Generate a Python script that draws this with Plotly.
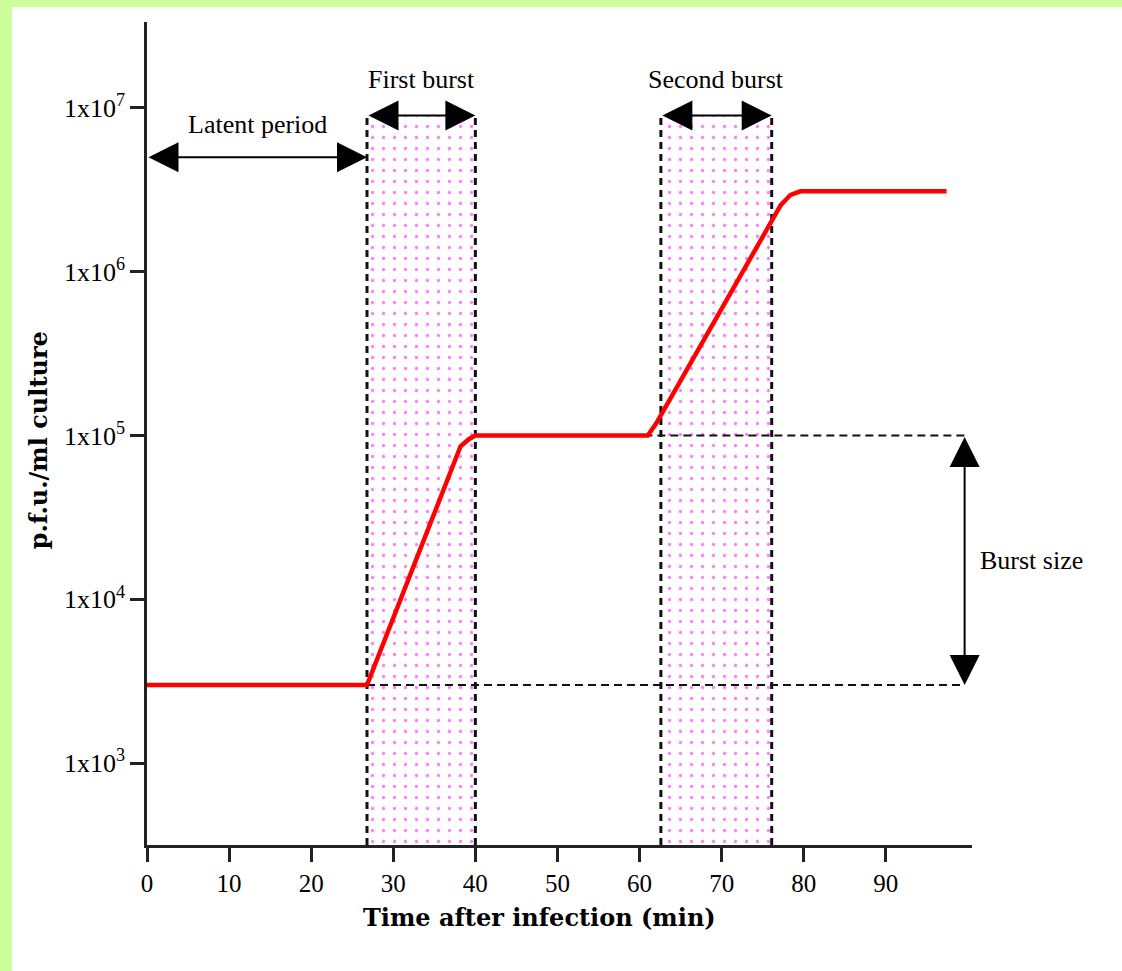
import numpy as np
import plotly.graph_objects as go

# ---- data ----
time_min = [0.0, 26.8, 38.2, 39.2, 40.0, 61.0, 62.0, 75.9, 77.2, 78.4, 79.6, 97.4]
pfu_ml = [3.0e3, 3.0e3, 8.6e4, 9.5e4, 1.0e5, 1.0e5, 1.18e5, 2.0e6, 2.55e6, 2.95e6, 3.1e6, 3.1e6]

burst_start = [26.8, 62.6]
burst_end = [40.0, 76.1]
burst_labels = ["First burst", "Second burst"]
latent_end = 26.8
initial_titer = 3.0e3
first_plateau = 1.0e5
burst_size_time = 99.6
window_top = 9.0e6
latent_arrow_level = 5.0e6

xtick_vals = [0, 10, 20, 30, 40, 50, 60, 70, 80, 90]
ytick_vals = [1e3, 1e4, 1e5, 1e6, 1e7]
ytick_text = ["1x10<sup>3</sup>", "1x10<sup>4</sup>", "1x10<sup>5</sup>",
              "1x10<sup>6</sup>", "1x10<sup>7</sup>"]

FONT = "Liberation Serif"
TITLE_FONT = "DejaVu Serif"
y_bottom = 10 ** 2.5

fig = go.Figure()

# dotted pink burst windows
for s, e in zip(burst_start, burst_end):
    fig.add_trace(go.Scatter(
        x=[s, s, e, e, s], y=[y_bottom, window_top, window_top, y_bottom, y_bottom],
        mode="lines", fill="toself", fillcolor="white",
        fillpattern=dict(shape=".", fgcolor="#ff00ff", bgcolor="white", size=11, solidity=0.07),
        line=dict(width=0), hoverinfo="skip", showlegend=False))

# dashed vertical borders
vx, vy = [], []
for s, e in zip(burst_start, burst_end):
    for xv in (s, e):
        vx += [xv, xv, None]
        vy += [y_bottom, window_top, None]
fig.add_trace(go.Scatter(x=vx, y=vy, mode="lines",
                         line=dict(color="#111111", width=3, dash="7px,5px"),
                         hoverinfo="skip", showlegend=False))

# dashed horizontal guide lines
fig.add_trace(go.Scatter(
    x=[burst_end[0], burst_size_time, None, latent_end, burst_size_time],
    y=[first_plateau, first_plateau, None, initial_titer, initial_titer],
    mode="lines", line=dict(color="#111111", width=2, dash="8px,5px"),
    hoverinfo="skip", showlegend=False))

# growth curve
fig.add_trace(go.Scatter(x=time_min, y=pfu_ml, mode="lines",
                         line=dict(color="#ff0000", width=4.5),
                         showlegend=False))

annotations = []


def double_arrow(x0, y0, x1, y1):
    annotations.append(dict(
        x=x1, y=np.log10(y1), ax=x0, ay=np.log10(y0), xref="x", yref="y",
        axref="x", ayref="y", text="", showarrow=True, arrowside="end+start",
        arrowhead=2, startarrowhead=2, arrowsize=3, startarrowsize=3,
        arrowwidth=2, arrowcolor="black", standoff=0, startstandoff=0))


double_arrow(0, latent_arrow_level, latent_end, latent_arrow_level)
for s, e in zip(burst_start, burst_end):
    double_arrow(s, window_top, e, window_top)
double_arrow(burst_size_time, first_plateau, burst_size_time, initial_titer)

txt_font = dict(family=FONT, size=26, color="black")
annotations.append(dict(x=latent_end / 2, y=6.90, xref="x", yref="y", text="Latent period",
                        showarrow=False, font=txt_font))
for s, e, lab in zip(burst_start, burst_end, burst_labels):
    annotations.append(dict(x=(s + e) / 2, y=7.175, xref="x", yref="y", text=lab,
                            showarrow=False, font=txt_font))
annotations.append(dict(x=1.007, y=np.log10(np.sqrt(first_plateau * initial_titer)),
                        xref="paper", yref="y", text="Burst size", showarrow=False,
                        xanchor="left", yanchor="middle", font=txt_font))

# axis titles
annotations.append(dict(x=-0.132, y=0.492, xref="paper", yref="paper",
                        text="<b>p.f.u./ml culture</b>", textangle=-90, showarrow=False,
                        xanchor="center", yanchor="middle",
                        font=dict(family=TITLE_FONT, size=24, color="black")))
annotations.append(dict(x=0.476, y=-0.0875, xref="paper", yref="paper",
                        text="<b>Time after infection (min)</b>", showarrow=False,
                        xanchor="center", yanchor="middle",
                        font=dict(family=TITLE_FONT, size=24, color="black")))

shapes = [
    dict(type="rect", xref="paper", yref="paper", x0=-0.2, x1=1.2, y0=1.0182, y1=1.05,
         fillcolor="#ccff99", line=dict(width=0), layer="below"),
    dict(type="rect", xref="paper", yref="paper", x0=-0.2, x1=-0.1636, y0=-0.2, y1=1.05,
         fillcolor="#ccff99", line=dict(width=0), layer="below"),
]

fig.update_layout(
    width=1122, height=971,
    margin=dict(l=147, r=150, t=22, b=126),
    paper_bgcolor="white", plot_bgcolor="white",
    showlegend=False,
    annotations=annotations, shapes=shapes,
    font=dict(family=FONT, size=26, color="black"),
    xaxis=dict(range=[0, 100.5], tickvals=xtick_vals, showgrid=False, zeroline=False,
               showline=True, linecolor="#222222", linewidth=2.5,
               ticks="outside", ticklen=14, tickwidth=2.5, tickcolor="#222222",
               tickfont=dict(family=FONT, size=25, color="black")),
    yaxis=dict(type="log", range=[2.5, 7.525], tickvals=ytick_vals, ticktext=ytick_text,
               showgrid=False, zeroline=False,
               showline=True, linecolor="#222222", linewidth=2.5,
               ticks="outside", ticklen=14, tickwidth=2.5, tickcolor="#222222",
               tickfont=dict(family=FONT, size=26, color="black")),
)

fig.write_html("out.html", config={"displayModeBar": False},
               post_script="document.body.style.margin='0px';")
